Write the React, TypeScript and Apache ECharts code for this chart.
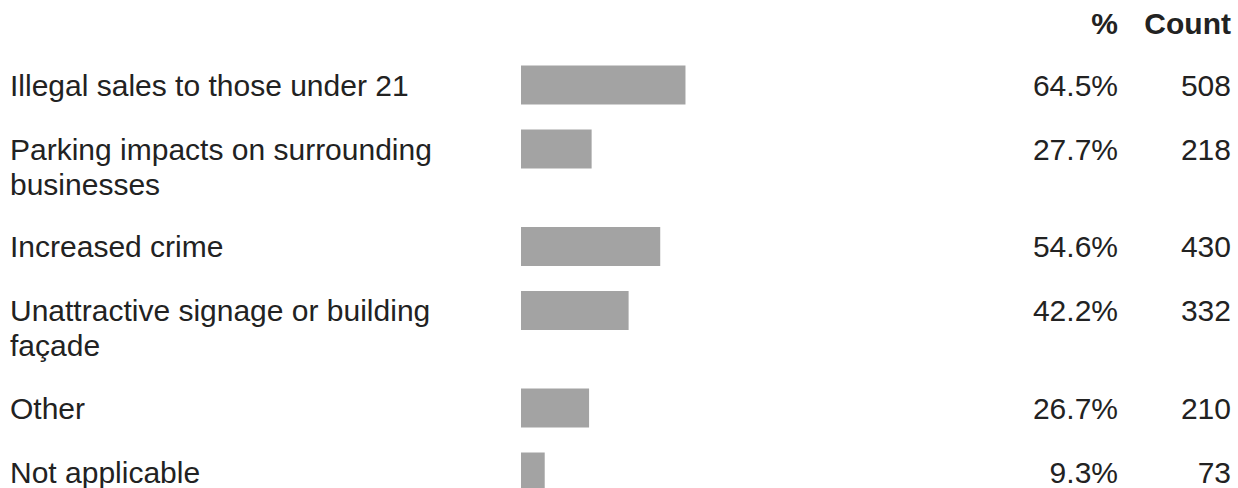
import React, { useEffect, useRef } from "react";
import * as echarts from "echarts";

const categories = [
  "Illegal sales to those under 21",
  "Parking impacts on surrounding\nbusinesses",
  "Increased crime",
  "Unattractive signage or building\nfaçade",
  "Other",
  "Not applicable",
];
const percents = [64.5, 27.7, 54.6, 42.2, 26.7, 9.3];
const counts = [508, 218, 430, 332, 210, 73];
const headers = ["%", "Count"];

const FONT = "'Liberation Sans', Arial, Helvetica, sans-serif";
const FS = 30;
const LH = 35;
const TEXT = "#222222";
const BAR = "#a3a3a3";
const BAR_H = 39;
const GRID_LEFT = 521;
const GRID_W = 255;
const W = 1238;
const H = 488;
const NUM_RIGHT = 1231;

export default function App() {
  const ref = useRef<HTMLDivElement>(null);

  useEffect(() => {
    document.body.style.margin = "0";
    if (!ref.current) return;
    const chart = echarts.init(ref.current, null, { renderer: "svg" });

    const grids: any[] = [];
    const xAxes: any[] = [];
    const yAxes: any[] = [];
    const series: any[] = [];

    let center = 85;
    categories.forEach((cat, i) => {
      const lines = cat.split("\n").length;
      grids.push({
        left: GRID_LEFT,
        width: GRID_W,
        top: center - BAR_H / 2,
        height: BAR_H,
        containLabel: false,
        outerBoundsMode: "none",
      });
      xAxes.push({
        gridIndex: i,
        type: "value",
        min: 0,
        max: 100,
        show: false,
      });
      yAxes.push({
        gridIndex: i,
        type: "category",
        position: "right",
        data: [cat],
        axisLine: { show: false },
        axisTick: { show: false },
        splitLine: { show: false },
        axisLabel: {
          show: true,
          align: "right",
          verticalAlign: "middle",
          margin: NUM_RIGHT - (GRID_LEFT + GRID_W),
          formatter: () => `{p|${percents[i].toFixed(1)}%}{c|${counts[i]}}`,
          rich: {
            p: {
              width: 100,
              align: "right",
              color: TEXT,
              fontFamily: FONT,
              fontSize: FS,
            },
            c: {
              width: 113,
              align: "right",
              color: TEXT,
              fontFamily: FONT,
              fontSize: FS,
            },
          },
        },
      });
      series.push({
        type: "bar",
        xAxisIndex: i,
        yAxisIndex: i,
        barWidth: BAR_H,
        itemStyle: { color: BAR },
        data: [percents[i]],
        label: {
          show: true,
          position: [10 - GRID_LEFT, BAR_H / 2 - LH / 2],
          align: "left",
          verticalAlign: "top",
          color: TEXT,
          fontFamily: FONT,
          fontSize: FS,
          lineHeight: LH,
          formatter: () => cat,
        },
        silent: true,
      });
      center += 64 + 33.5 * (lines - 1);
    });

    chart.setOption({
      animation: false,
      grid: grids,
      xAxis: xAxes,
      yAxis: yAxes,
      series,
      graphic: [
        {
          type: "text",
          right: W - 1118,
          top: 8,
          style: {
            text: headers[0],
            fill: TEXT,
            font: `bold ${FS}px ${FONT}`,
          },
        },
        {
          type: "text",
          right: W - NUM_RIGHT,
          top: 8,
          style: {
            text: headers[1],
            fill: TEXT,
            font: `bold ${FS}px ${FONT}`,
          },
        },
      ],
    });

    return () => chart.dispose();
  }, []);

  return <div ref={ref} style={{ width: W, height: H }} />;
}
